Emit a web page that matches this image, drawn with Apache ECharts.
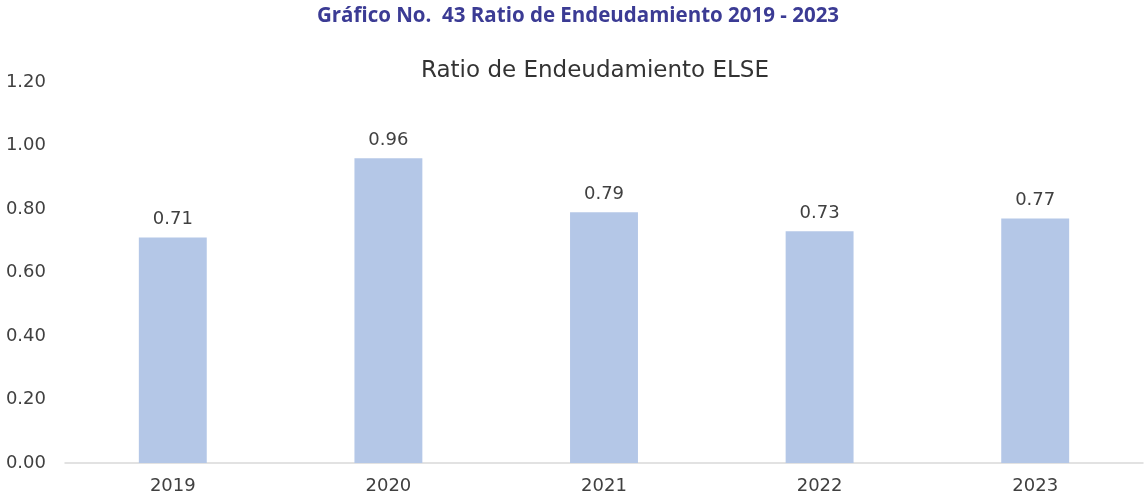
<!DOCTYPE html>
<html>
<head>
<meta charset="utf-8">
<script src="https://cdn.jsdelivr.net/npm/echarts@6/dist/echarts.min.js"></script>
<style>
  html, body { margin: 0; padding: 0; background: #ffffff; }
  #chart { width: 1146px; height: 502px; }
</style>
</head>
<body>
<div id="chart"></div>
<script>
// Debt ratio per year
const years = ['2019', '2020', '2021', '2022', '2023'];
const ratios = [0.71, 0.96, 0.79, 0.73, 0.77];

const textFont = 'DejaVu Sans';
const chart = echarts.init(document.getElementById('chart'));
chart.setOption({
  animation: false,
  title: [
    {
      text: 'Gráfico No.  43 Ratio de Endeudamiento 2019 - 2023',
      left: 573, top: 1, textAlign: 'center',
      textStyle: { fontFamily: 'Open Sans', fontWeight: 'bold', fontSize: 20.5, color: '#3b3b94' }
    },
    {
      text: 'Ratio de Endeudamiento ELSE',
      left: 590, top: 55, textAlign: 'center',
      textStyle: { fontFamily: textFont, fontWeight: 'normal', fontSize: 23, color: '#333333' }
    }
  ],
  grid: { left: 65, right: 3, top: 82, bottom: 39 },
  xAxis: {
    type: 'category',
    data: years,
    axisLine: { lineStyle: { color: '#d9d9d9', width: 1.5 } },
    axisTick: { show: false },
    axisLabel: { fontFamily: textFont, fontSize: 18, color: '#404040', margin: 14 }
  },
  yAxis: {
    type: 'value',
    min: 0, max: 1.2, interval: 0.2,
    splitLine: { show: false },
    axisLine: { show: false },
    axisTick: { show: false },
    axisLabel: {
      fontFamily: textFont, fontSize: 18, color: '#404040', margin: 19,
      formatter: v => v.toFixed(2)
    }
  },
  series: [{
    type: 'bar',
    data: ratios,
    barWidth: '31.5%',
    itemStyle: { color: '#b4c7e7' },
    label: {
      show: true, position: 'top', distance: 9,
      fontFamily: textFont, fontSize: 18, color: '#404040',
      formatter: p => p.value.toFixed(2)
    }
  }]
});
</script>
</body>
</html>
